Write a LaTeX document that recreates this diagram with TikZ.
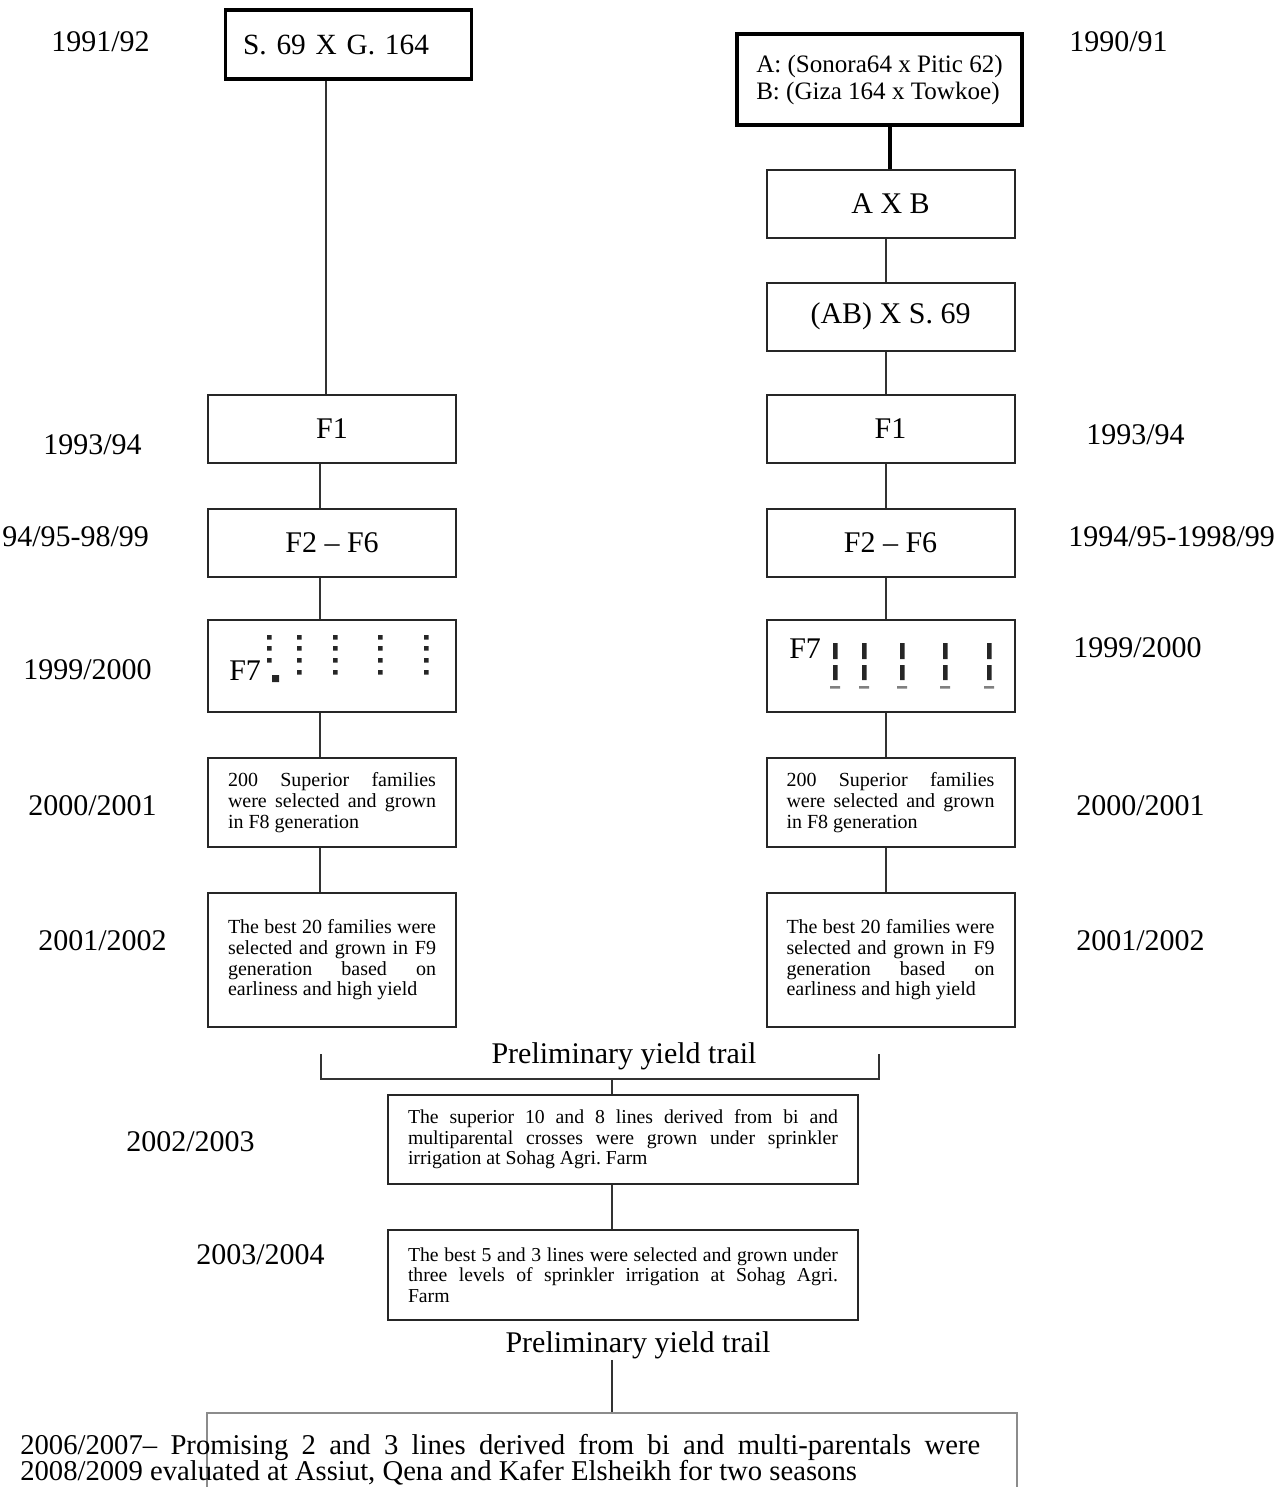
\documentclass[tikz,border=0pt]{standalone}
\usepackage{fontspec}
\setmainfont{Liberation Serif}
\usepackage{tikz}

\newcommand{\bigfont}{\fontsize{22.5}{27}\selectfont}
\newcommand{\notefont}{\fontsize{15}{15.5}\selectfont\hyphenpenalty=10000 \parindent=0pt }
\newcommand{\trialfont}{\fontsize{14.8}{15.5}\selectfont\hyphenpenalty=10000 \parindent=0pt }
\newcommand{\footfont}{\fontsize{21.5}{19.6}\selectfont\lineskiplimit=-20pt \parindent=0pt }

\tikzset{
  yearlabel/.style={anchor=west, inner sep=0.75pt, font=\bigfont},
  genbox/.style={draw=black!85, line width=1.5pt, minimum width=186pt, minimum height=51pt, inner sep=0pt, font=\bigfont},
  crossbox/.style={draw, line width=2.3pt, inner sep=0pt, align=left},
  notebox/.style={draw=black!85, line width=1.5pt, text width=156pt, inner xsep=15pt, inner ysep=0pt, align=justify, font=\notefont},
  trialbox/.style={notebox, text width=322.5pt, font=\trialfont},
  link/.style={draw=black!80, line width=1.2pt},
}

\begin{document}
\frenchspacing
\begin{tikzpicture}[x=0.75pt,y=0.75pt,yscale=-1,xscale=1]
\useasboundingbox (0,0) rectangle (1278,1487);

%Spines
\coordinate (ltop) at (326,0);
\coordinate (lcol) at (320,0);
\coordinate (rtop) at (890,0);
\coordinate (rcol) at (886,0);
\coordinate (mcol) at (612,0);

%Shape: Rectangle -- parents
\node (s69) [crossbox, text width=158pt, inner xsep=13.5pt, minimum height=51.75pt, font=\fontsize{22}{27}\selectfont] at (348.5,44.5) {S. 69 X G. 164};
\node (ab) [crossbox, minimum width=213.75pt, minimum height=68.25pt, font=\fontsize{18.8}{20.25}\selectfont] at (879.5,79.5) {A: (Sonora64 x Pitic 62)\\B: (Giza 164 x Towkoe)};
\node (axb) [genbox] at (890.5,204) {A X B};
\node (abs69) [genbox] at (890.5,316.5) {(AB) X S. 69};

%Shape: Rectangle -- left column
\node (f1l) [genbox] at (332,429) {F1};
\node (f2l) [genbox] at (332,543) {F2 -- F6};
\node (f7l) [genbox, minimum height=69pt] at (332,666) {};
\node (supl) [notebox, minimum height=66.75pt] at (332,802.5) {200 Superior families\linebreak were selected and grown\linebreak in F8 generation};
\node (bestl) [notebox, minimum height=100.5pt] at (332,960) {The best 20 families were\linebreak selected and grown in F9\linebreak generation based on\linebreak earliness and high yield};

%Shape: Rectangle -- right column
\node (f1r) [genbox] at (890.5,429) {F1};
\node (f2r) [genbox] at (890.5,543) {F2 -- F6};
\node (f7r) [genbox, minimum height=69pt] at (890.5,666) {};
\node (supr) [notebox, minimum height=66.75pt] at (890.5,802.5) {200 Superior families\linebreak were selected and grown\linebreak in F8 generation};
\node (bestr) [notebox, minimum height=100.5pt] at (890.5,960) {The best 20 families were\linebreak selected and grown in F9\linebreak generation based on\linebreak earliness and high yield};

%Shape: Rectangle -- trials
\node (mid1) [trialbox, minimum height=66.75pt] at (623,1139.5) {The superior 10 and 8 lines derived from bi and\linebreak multiparental crosses were grown under sprinkler\linebreak irrigation at Sohag Agri. Farm};
\node (mid2) [trialbox, minimum height=67.5pt] at (623,1275) {The best 5 and 3 lines were selected and grown under\linebreak three levels of sprinkler irrigation at Sohag Agri.\linebreak Farm};

% Text Node
\draw (228,671) node (f7ltxt) [anchor=west, inner sep=0.75pt, font=\bigfont] {F7};
% Text Node
\draw (788,649) node (f7rtxt) [anchor=west, inner sep=0.75pt, font=\bigfont] {F7};

%Shape: F7 plants, left
\fill[black!85] (267,635) rectangle ++(4.5,4.5) (267,646) rectangle ++(4.5,4.5) (267,658) rectangle ++(4.5,4.5) (272,675) rectangle ++(7,7);
\fill[black!85] (297,635) rectangle ++(4.5,4.5) (297,646) rectangle ++(4.5,4.5) (297,658) rectangle ++(4.5,4.5) (297,670) rectangle ++(4.5,4.5);
\fill[black!85] (333,635) rectangle ++(4.5,4.5) (333,646) rectangle ++(4.5,4.5) (333,658) rectangle ++(4.5,4.5) (333,670) rectangle ++(4.5,4.5);
\fill[black!85] (378,635) rectangle ++(4.5,4.5) (378,646) rectangle ++(4.5,4.5) (378,658) rectangle ++(4.5,4.5) (378,670) rectangle ++(4.5,4.5);
\fill[black!85] (424,635) rectangle ++(4.5,4.5) (424,646) rectangle ++(4.5,4.5) (424,658) rectangle ++(4.5,4.5) (424,670) rectangle ++(4.5,4.5);

%Shape: F7 plants, right
\fill[black!85] (833,643) rectangle ++(4.5,16) (833,665) rectangle ++(4.5,15) (862,643) rectangle ++(4.5,16) (862,665) rectangle ++(4.5,15)
  (900,643) rectangle ++(4.5,16) (900,665) rectangle ++(4.5,15) (943,643) rectangle ++(4.5,16) (943,665) rectangle ++(4.5,15)
  (987,643) rectangle ++(4.5,16) (987,665) rectangle ++(4.5,15);
\fill[black!50] (830,686) rectangle ++(10,2.5) (859,686) rectangle ++(10,2.5) (897,686) rectangle ++(10,2.5) (940,686) rectangle ++(10,2.5) (984,686) rectangle ++(10,2.5);

%Straight Lines -- left column
\draw[link] (s69.south -| ltop) -- (f1l.north -| ltop);
\draw[link] (f1l.south -| lcol) -- (f2l.north -| lcol);
\draw[link] (f2l.south -| lcol) -- (f7l.north -| lcol);
\draw[link] (f7l.south -| lcol) -- (supl.north -| lcol);
\draw[link] (supl.south -| lcol) -- (bestl.north -| lcol);

%Straight Lines -- right column
\draw[link, draw=black, line width=2.3pt] (ab.south -| rtop) -- (axb.north -| rtop);
\draw[link] (axb.south -| rcol) -- (abs69.north -| rcol);
\draw[link] (abs69.south -| rcol) -- (f1r.north -| rcol);
\draw[link] (f1r.south -| rcol) -- (f2r.north -| rcol);
\draw[link] (f2r.south -| rcol) -- (f7r.north -| rcol);
\draw[link] (f7r.south -| rcol) -- (supr.north -| rcol);
\draw[link] (supr.south -| rcol) -- (bestr.north -| rcol);

% Text Node
\draw (624,1056) node (pyt1) [inner sep=0.75pt, font=\bigfont] {Preliminary yield trail};
%Straight Lines -- bracket
\coordinate (brkl) at (321,1054);
\coordinate (brkr) at (879,1054);
\coordinate (brkm) at (612,1079);
\draw[link] (brkl) -- (brkl |- brkm) -- (brkr |- brkm) -- (brkr);
\draw[link] (brkm) -- (brkm |- mid1.north);
\draw[link] (mid1.south -| mcol) -- (mid2.north -| mcol);

% Text Node
\draw (638,1345) node (pyt2) [inner sep=0.75pt, font=\bigfont] {Preliminary yield trail};
\coordinate (fintop) at (612,1413);
\draw[link] (pyt2.south -| mcol) -- (fintop);

%Shape: open box at the foot
\draw[draw=black!45, line width=1.5pt] (207,1487) -- (207,1413) -- (1017,1413) -- (1017,1487);
% Text Node
\node (final) [anchor=north west, inner sep=0pt, text width=720pt, align=justify, font=\footfont] at (20,1434)
  {2006/2007– Promising 2 and 3 lines derived from bi and multi-parentals were\linebreak 2008/2009 evaluated at Assiut, Qena and Kafer Elsheikh for two seasons};

% Text Node -- seasons
\draw (50,42) node (y9192) [yearlabel] {1991/92};
\draw (1068,42) node (y9091) [yearlabel] {1990/91};
\draw (42,445) node (y9394l) [yearlabel] {1993/94};
\draw (1085,435) node (y9394r) [yearlabel] {1993/94};
\draw (1,537) node (y9599l) [yearlabel] {94/95-98/99};
\draw (1067,537) node (y9599r) [yearlabel] {1994/95-1998/99};
\draw (22,670) node (y2000l) [yearlabel] {1999/2000};
\draw (1072,648) node (y2000r) [yearlabel] {1999/2000};
\draw (27,806) node (y2001l) [yearlabel] {2000/2001};
\draw (1075,806) node (y2001r) [yearlabel] {2000/2001};
\draw (37,941) node (y2002l) [yearlabel] {2001/2002};
\draw (1075,941) node (y2002r) [yearlabel] {2001/2002};
\draw (125,1142) node (y2003) [yearlabel] {2002/2003};
\draw (195,1255) node (y2004) [yearlabel] {2003/2004};

\end{tikzpicture}
\end{document}
